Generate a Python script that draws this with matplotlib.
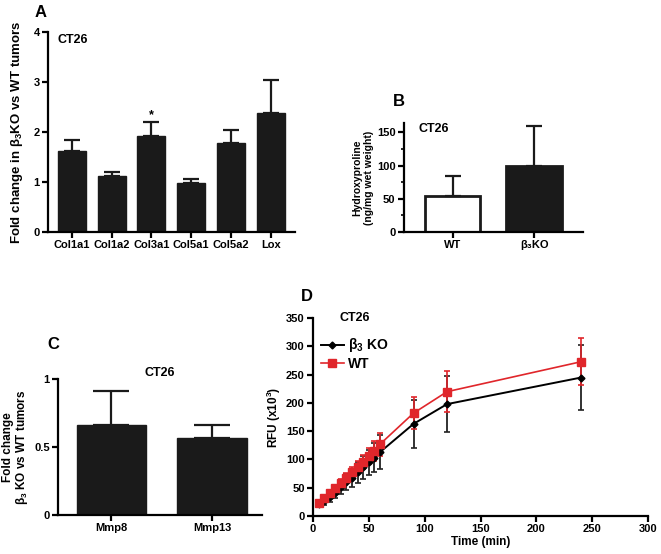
import matplotlib
matplotlib.use('Agg')
import matplotlib.pyplot as plt
from matplotlib.ticker import MultipleLocator

plt.rcParams['font.family'] = ['Liberation Sans', 'DejaVu Sans']
plt.rcParams['font.weight'] = 'bold'
plt.rcParams['axes.labelweight'] = 'bold'
plt.rcParams['mathtext.fontset'] = 'custom'
plt.rcParams['mathtext.rm'] = 'Liberation Sans:bold'
plt.rcParams['mathtext.it'] = 'Liberation Sans:bold'
plt.rcParams['mathtext.bf'] = 'Liberation Sans:bold'

# panel A: collagen genes
genesA = ['Col1a1', 'Col1a2', 'Col3a1', 'Col5a1', 'Col5a2', 'Lox']
foldA = [1.62, 1.13, 1.93, 0.98, 1.78, 2.38]
errA = [0.23, 0.08, 0.27, 0.09, 0.27, 0.67]

# panel B: hydroxyproline
groupsB = ['WT', 'β₃KO']
hypB = [55, 100]
errB = [30, 60]

# panel C: MMPs
genesC = ['Mmp8', 'Mmp13']
foldC = [0.66, 0.57]
errC = [0.25, 0.09]

# panel D: RFU time course
timeD = [5, 10, 15, 20, 25, 30, 35, 40, 45, 50, 55, 60, 90, 120, 240]
koD = [21, 26, 33, 41, 51, 60, 68, 77, 86, 95, 103, 113, 163, 198, 245]
koErr = [4, 6, 8, 10, 12, 14, 16, 18, 20, 22, 26, 30, 42, 50, 58]
wtD = [23, 32, 40, 49, 58, 68, 77, 87, 96, 106, 115, 127, 182, 220, 273]
wtErr = [3, 4, 5, 6, 7, 8, 9, 10, 12, 14, 17, 20, 28, 36, 42]

RED = '#e0262b'
fig = plt.figure(figsize=(6.61, 5.54), dpi=100)


def style(ax):
    for s in ['top', 'right']:
        ax.spines[s].set_visible(False)
    for s in ['left', 'bottom']:
        ax.spines[s].set_linewidth(1.6)
    ax.tick_params(width=1.6, length=4, labelsize=8, direction='out', pad=2)
    ax.tick_params(which='minor', width=1.2, length=2.5)
    for lab in ax.get_xticklabels() + ax.get_yticklabels():
        lab.set_fontweight('bold')


# ---- A
axA = fig.add_axes([0.0726, 0.581, 0.373, 0.361])
xa = range(len(genesA))
axA.bar(xa, foldA, width=0.7, color='#1a1a1a', edgecolor='#1a1a1a')
axA.errorbar(xa, foldA, yerr=[[0] * len(errA), errA], fmt='none',
             ecolor='#1a1a1a', elinewidth=1.6, capsize=6, capthick=1.6)
axA.set_xticks(list(xa))
axA.set_xticklabels(genesA)
axA.set_xlim(-0.6, len(genesA) - 0.4)
axA.set_ylim(0, 4)
axA.set_yticks([0, 1, 2, 3, 4])
axA.set_ylabel(r'Fold change in β$_3$KO vs WT tumors', fontsize=9.5,
               labelpad=6)
axA.text(2, foldA[2] + errA[2] + 0.08, '*', ha='center', fontsize=9)
axA.text(0.04, 0.99, 'CT26', transform=axA.transAxes, fontsize=9, va='top')
style(axA)
fig.text(0.053, 0.978, 'A', fontsize=12, va='center', ha='left')

# ---- B
axB = fig.add_axes([0.611, 0.581, 0.271, 0.197])
xb = [0, 1]
axB.bar(xb, hypB, width=0.68, color=['white', '#1a1a1a'], edgecolor='#1a1a1a',
        linewidth=2)
axB.errorbar(xb, hypB, yerr=[[0, 0], errB], fmt='none', ecolor='#1a1a1a',
             elinewidth=1.6, capsize=6, capthick=1.6)
axB.set_xticks(xb)
axB.set_xticklabels(groupsB)
axB.set_xlim(-0.6, 1.6)
axB.set_ylim(0, 164)
axB.set_yticks([0, 50, 100, 150])
axB.yaxis.set_minor_locator(MultipleLocator(25))
axB.set_ylabel('Hydroxyproline\n(ng/mg wet weight)', fontsize=7.5, labelpad=2)
axB.text(0.08, 1.0, 'CT26', transform=axB.transAxes, fontsize=9, va='top')
style(axB)
fig.text(0.595, 0.816, 'B', fontsize=12, va='center', ha='left')

# ---- C
axC = fig.add_axes([0.0877, 0.0704, 0.309, 0.245])
xc = [0, 1]
axC.bar(xc, foldC, width=0.69, color='#1a1a1a', edgecolor='#1a1a1a')
axC.errorbar(xc, foldC, yerr=[[0, 0], errC], fmt='none', ecolor='#1a1a1a',
             elinewidth=1.6, capsize=13, capthick=1.6)
axC.set_xticks(xc)
axC.set_xticklabels(genesC)
axC.set_xlim(-0.53, 1.5)
axC.set_ylim(0, 1)
axC.set_yticks([0, 0.5, 1])
axC.set_yticklabels(['0', '0.5', '1'])
axC.set_ylabel('Fold change\n' + r'β$_3$ KO vs WT tumors', fontsize=8.5,
               labelpad=3, linespacing=1.0)
axC.set_title('CT26', fontsize=9, fontweight='bold', pad=2)
style(axC)
fig.text(0.072, 0.378, 'C', fontsize=12, va='center', ha='left')

# ---- D
axD = fig.add_axes([0.4735, 0.0686, 0.507, 0.357])
axD.errorbar(timeD, koD, yerr=koErr, fmt='none', ecolor='#222222',
             elinewidth=1.3, capsize=2.5, capthick=1.2)
axD.errorbar(timeD, wtD, yerr=wtErr, fmt='none', ecolor=RED,
             elinewidth=1.2, capsize=2.5, capthick=1.2)
axD.plot(timeD, koD, color='black', marker='D', markersize=3.5,
         linewidth=1.4, label=r'β$_3$ KO')
axD.plot(timeD, wtD, color=RED, marker='s', markersize=6,
         linewidth=1.2, label='WT')
axD.set_xlim(0, 300)
axD.set_ylim(0, 350)
axD.set_xticks(range(0, 301, 50))
axD.set_yticks(range(0, 351, 50))
axD.set_xlabel('Time (min)', fontsize=8.5, labelpad=1)
axD.set_ylabel(r'RFU (x10$^3$)', fontsize=8.5, labelpad=2)
axD.text(0.08, 1.0, 'CT26', transform=axD.transAxes, fontsize=9,
         va='center')
leg = axD.legend(loc='upper left', bbox_to_anchor=(0.0, 0.95), frameon=False,
                 fontsize=10, handlelength=1.6, handletextpad=0.3,
                 borderaxespad=0.2, labelspacing=0.15)
style(axD)
fig.text(0.455, 0.465, 'D', fontsize=12, va='center', ha='left')

fig.savefig('out.png', dpi=100)
